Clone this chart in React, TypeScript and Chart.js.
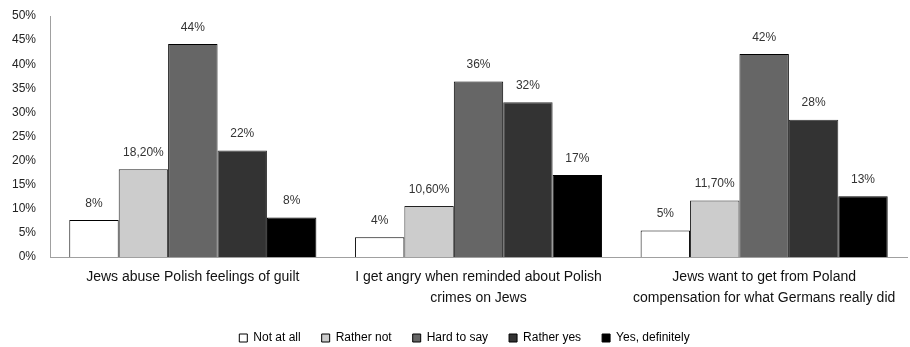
import React, { useEffect, useRef } from "react";
import { Chart, registerables } from "chart.js";

Chart.register(...registerables);

const categories = [
  ["Jews abuse Polish feelings of guilt"],
  ["I get angry when reminded about Polish", "crimes on Jews"],
  ["Jews want to get from Poland", "compensation for what Germans really did"],
];
const seriesNames = ["Not at all", "Rather not", "Hard to say", "Rather yes", "Yes, definitely"];

const notAtAll = [7.7, 4.1, 5.5];
const ratherNot = [18.2, 10.6, 11.7];
const hardToSay = [44.2, 36.4, 42.1];
const ratherYes = [22.1, 32.1, 28.5];
const yesDefinitely = [8.2, 17.0, 12.6];

const notAtAllLabels = ["8%", "4%", "5%"];
const ratherNotLabels = ["18,20%", "10,60%", "11,70%"];
const hardToSayLabels = ["44%", "36%", "42%"];
const ratherYesLabels = ["22%", "32%", "28%"];
const yesDefinitelyLabels = ["8%", "17%", "13%"];

const yMin = 0;
const yMax = 50;
const yStep = 5;

const fills = ["#ffffff", "#cccccc", "#666666", "#333333", "#000000"];
const borders = ["#000000", "#222222", "#000000", "#333333", "#000000"];

const FONT = "'Liberation Sans', Arial, sans-serif";

export default function App() {
  const canvasRef = useRef<HTMLCanvasElement | null>(null);

  useEffect(() => {
    document.body.style.margin = "0";
    const canvas = canvasRef.current;
    if (!canvas) return;
    const values = [notAtAll, ratherNot, hardToSay, ratherYes, yesDefinitely];
    const labels = [notAtAllLabels, ratherNotLabels, hardToSayLabels, ratherYesLabels, yesDefinitelyLabels];

    const valueLabels = {
      id: "valueLabels",
      afterLayout(chart: any) {
        if (chart.legend) {
          chart.legend.left += 11;
          chart.legend.right += 11;
        }
      },
      afterDatasetsDraw(chart: any) {
        const ctx = chart.ctx;
        ctx.save();
        ctx.font = `12px ${FONT}`;
        ctx.fillStyle = "#333333";
        ctx.textAlign = "center";
        ctx.textBaseline = "middle";
        chart.data.datasets.forEach((ds: any, di: number) => {
          const meta = chart.getDatasetMeta(di);
          meta.data.forEach((bar: any, i: number) => {
            ctx.fillText(labels[di][i], bar.x, bar.y - 16.5);
          });
        });
        ctx.restore();
      },
    };

    const chart = new Chart(canvas, {
      type: "bar",
      data: {
        labels: categories as any,
        datasets: seriesNames.map((name, i) => ({
          label: name,
          data: values[i],
          backgroundColor: fills[i],
          borderColor: borders[i],
          borderWidth: 1,
          categoryPercentage: 0.865,
          barPercentage: 1,
        })),
      },
      options: {
        animation: false,
        responsive: true,
        maintainAspectRatio: false,
        layout: { padding: { top: 16, left: 0, right: 3, bottom: 0 } },
        scales: {
          x: {
            grid: { display: false, drawTicks: false },
            border: { display: true, color: "#a0a0a0", width: 1 },
            ticks: {
              color: "#111111",
              font: { family: FONT, size: 14, lineHeight: 1.55 },
              padding: 9,
              maxRotation: 0,
              autoSkip: false,
            },
            afterFit: (scale: any) => {
              scale.height = 54;
            },
          },
          y: {
            min: yMin,
            max: yMax,
            grid: { display: false, drawTicks: false },
            border: { display: true, color: "#a0a0a0", width: 1 },
            ticks: {
              stepSize: yStep,
              color: "#222222",
              font: { family: FONT, size: 12 },
              padding: 14,
              callback: (v: any) => `${v}%`,
            },
            afterFit: (scale: any) => {
              scale.width = 50;
              scale.paddingTop = 0;
              scale.paddingBottom = 0;
            },
          },
        },
        plugins: {
          legend: {
            position: "bottom",
            maxHeight: 36,
            labels: {
              boxWidth: 8,
              boxHeight: 8,
              padding: 21,
              color: "#111111",
              font: { family: FONT, size: 12 },
              generateLabels: (chart: any) =>
                chart.data.datasets.map((ds: any, i: number) => ({
                  text: ds.label,
                  fillStyle: fills[i],
                  strokeStyle: "#000000",
                  lineWidth: 1,
                  datasetIndex: i,
                  hidden: false,
                })),
            },
          },
          tooltip: { enabled: false },
        },
      },
      plugins: [valueLabels],
    });
    return () => chart.destroy();
  }, []);

  return (
    <div style={{ width: 910, height: 347, position: "relative" }}>
      <canvas ref={canvasRef} />
    </div>
  );
}
